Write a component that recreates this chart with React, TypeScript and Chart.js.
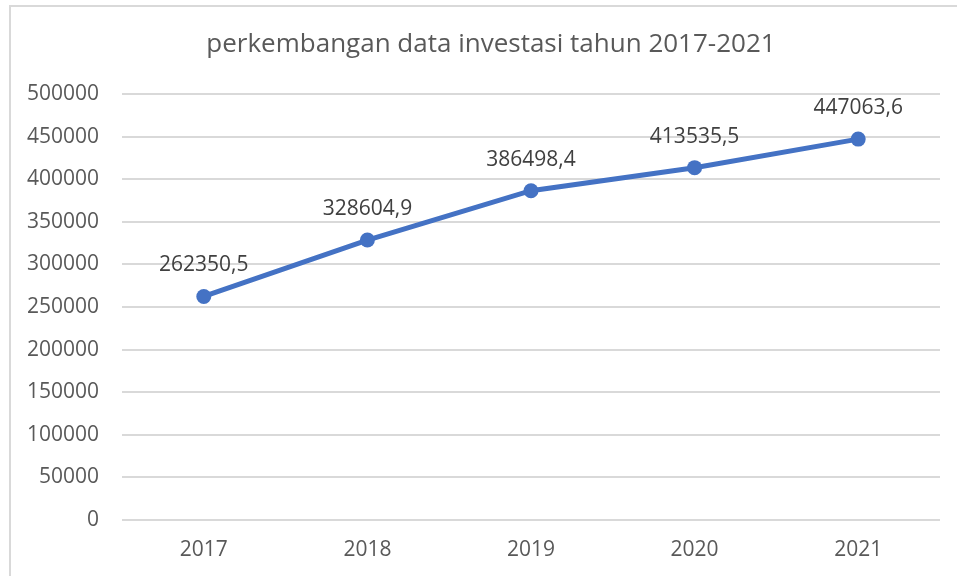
import React, { useEffect, useRef } from "react";
import { Chart, registerables } from "chart.js";

Chart.register(...registerables);

const categories = ["2017", "2018", "2019", "2020", "2021"];
const investasi = [262350.5, 328604.9, 386498.4, 413535.5, 447063.6];
const dataLabels = ["262350,5", "328604,9", "386498,4", "413535,5", "447063,6"];
const titleText = "perkembangan data investasi tahun 2017-2021";

const FONT = "'Open Sans', 'Noto Sans', sans-serif";

const labelPlugin = {
  id: "pointLabels",
  afterDatasetsDraw(chart: any) {
    const ctx = chart.ctx;
    const meta = chart.getDatasetMeta(0);
    ctx.save();
    ctx.font = `21px ${FONT}`;
    ctx.fillStyle = "#404040";
    ctx.textAlign = "center";
    ctx.textBaseline = "middle";
    meta.data.forEach((pt: any, i: number) => {
      ctx.fillText(dataLabels[i], pt.x, pt.y - 31);
    });
    ctx.font = `26px ${FONT}`;
    ctx.fillStyle = "#595959";
    ctx.fillText(titleText, 491, 45);
    ctx.restore();
  },
};

export default function App() {
  const ref = useRef<HTMLCanvasElement | null>(null);
  useEffect(() => {
    if (!ref.current) return;
    const chart = new Chart(ref.current, {
      type: "line",
      data: {
        labels: categories,
        datasets: [
          {
            data: investasi,
            borderColor: "#4472C4",
            backgroundColor: "#4472C4",
            borderWidth: 5,
            pointRadius: 7.5,
            pointBackgroundColor: "#4472C4",
            pointBorderWidth: 0,
            tension: 0,
          },
        ],
      },
      options: {
        animation: false,
        responsive: false,
        layout: { padding: { left: 0, right: 17, top: 94, bottom: 0 } },
        plugins: {
          legend: { display: false },
          tooltip: { enabled: false },
          title: { display: false },
        },
        scales: {
          x: {
            offset: true,
            grid: { display: false, drawTicks: false },
            border: { display: false },
            ticks: {
              color: "#595959",
              font: { family: FONT, size: 21 },
              padding: 17,
            },
            afterFit(scale: any) {
              scale.height = 56;
            },
          },
          y: {
            min: 0,
            max: 500000,
            grid: { color: "#d9d9d9", lineWidth: 2, drawTicks: false },
            border: { display: false },
            ticks: {
              stepSize: 50000,
              color: "#595959",
              font: { family: FONT, size: 21 },
              padding: 23,
              callback: (v: any) => String(v),
            },
            afterFit(scale: any) {
              scale.width = 122;
            },
          },
        },
      },
      plugins: [labelPlugin],
    });
    return () => chart.destroy();
  }, []);
  return (
    <div style={{ position: "fixed", left: 0, top: 0, width: 957, height: 576, background: "#fff", overflow: "hidden" }}>
      <canvas ref={ref} width={957} height={576} style={{ position: "absolute", left: 0, top: 0 }} />
      <div
        style={{
          position: "absolute",
          left: 9,
          top: 5,
          width: 1000,
          height: 1000,
          borderLeft: "2px solid #d9d9d9",
          borderTop: "2px solid #d9d9d9",
          pointerEvents: "none",
        }}
      />
    </div>
  );
}
